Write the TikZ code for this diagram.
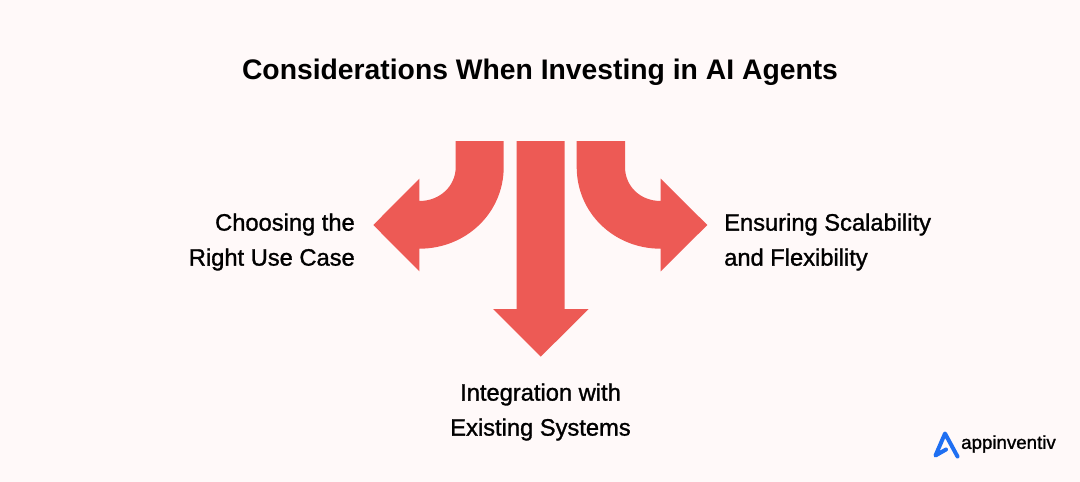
\documentclass[tikz,border=0pt]{standalone}
\usepackage{fontspec}
\setmainfont{Liberation Sans}
\newfontfamily\labelfont[FakeBold=1.2]{Liberation Sans}
\definecolor{pagebg}{HTML}{FFF9F9}
\definecolor{arrowred}{HTML}{ED5A55}
\definecolor{logoblue}{HTML}{1F6FF2}
\tikzset{
  caption/.style={align=center,font=\labelfont\fontsize{23.7}{35}\selectfont,text=black,inner sep=0pt},
  arrowfill/.style={fill=arrowred},
}
\begin{document}
\begin{tikzpicture}[x=1pt,y=-1pt]
  \fill[pagebg] (0,0) rectangle (1080,482);
  \node[inner sep=0pt,font=\bfseries\fontsize{28.3}{35}\selectfont] (title) at (540,72.5) {Considerations When Investing in AI Agents};
  % arrows
  \fill[arrowfill] (455.7,141) -- (503.7,141) -- (503.7,167) .. controls (503.7,213) and (466,248.7) .. (419.3,248.7) -- (419.3,271.3) -- (373.3,225) -- (419.3,178.7) -- (419.3,201) .. controls (440,201) and (455.7,186) .. (455.7,167) -- cycle;
  \fill[arrowfill] (516.7,141) -- (564.7,141) -- (564.7,309) -- (588.7,309) -- (540.7,356.7) -- (493,309) -- (516.7,309) -- cycle;
  \fill[arrowfill] (625,141) -- (576.7,141) -- (576.7,167) .. controls (576.7,213) and (614,248.7) .. (660.7,248.7) -- (660.7,271.3) -- (707.3,225) -- (660.7,178.7) -- (660.7,201) .. controls (640,201) and (625,186) .. (625,167) -- cycle;
  % labels
  \node[caption,align=right,anchor=east] (usecase) at (355,242) {Choosing the\\Right Use Case};
  \node[caption,align=left,anchor=west] (scaling) at (724,242) {Ensuring Scalability\\and Flexibility};
  \node[caption] (integration) at (540.5,412) {Integration with\\Existing Systems};
  % logo
  \draw[logoblue,line width=4pt,line join=round,line cap=round] (946,449.5) -- (935.5,455.5) -- (945,433.5) -- (957.5,456.5);
  \node[inner sep=0pt,anchor=west,font=\labelfont\fontsize{18.7}{20}\selectfont] (brand) at (961,444) {appinventiv};
\end{tikzpicture}
\end{document}
